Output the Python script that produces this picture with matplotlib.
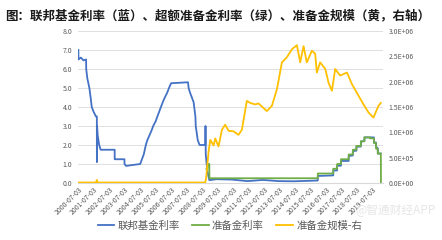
import matplotlib
matplotlib.use('Agg')
import matplotlib.pyplot as plt
import pandas as pd

plt.rcParams['font.family'] = ['Noto Sans CJK SC', 'DejaVu Sans']

# 联邦基金利率 (%)
fed_dates = ['2000-07-03', '2000-07-06', '2000-09-01', '2000-11-01', '2001-01-02', '2001-01-04',
             '2001-01-31', '2001-03-20', '2001-04-18', '2001-05-15', '2001-06-27', '2001-08-21',
             '2001-09-12', '2001-09-13', '2001-09-17', '2001-10-02', '2001-11-06', '2001-12-11',
             '2002-11-06', '2002-11-07', '2003-06-25', '2003-06-26', '2003-08-01', '2004-06-30',
             '2004-08-10', '2004-09-21', '2004-11-10', '2004-12-14', '2005-02-02', '2005-03-22',
             '2005-05-03', '2005-06-30', '2005-08-09', '2005-09-20', '2005-11-01', '2005-12-13',
             '2006-01-31', '2006-03-28', '2006-05-10', '2006-06-29', '2007-08-01', '2007-08-15',
             '2007-09-18', '2007-10-31', '2007-12-11', '2008-01-22', '2008-01-30', '2008-03-18',
             '2008-04-30', '2008-09-12', '2008-09-16', '2008-09-22', '2008-10-30', '2008-12-16',
             '2009-06-01', '2010-06-01', '2011-06-01', '2012-06-01', '2013-06-01', '2014-06-01',
             '2015-12-15', '2015-12-17', '2016-12-14', '2016-12-15', '2017-03-15', '2017-03-16',
             '2017-06-14', '2017-06-15', '2017-12-13', '2017-12-14', '2018-03-21', '2018-03-22',
             '2018-06-13', '2018-06-14', '2018-09-26', '2018-09-27', '2018-12-19', '2018-12-20',
             '2019-07-31', '2019-08-01', '2019-09-18', '2019-09-19', '2019-10-30', '2019-10-31',
             '2020-01-10']
fed_rate = [7.0, 6.5, 6.6, 6.45, 6.5, 6.0,
            5.5, 5.0, 4.5, 4.0, 3.75, 3.5,
            3.5, 1.1, 3.0, 2.5, 2.0, 1.75,
            1.75, 1.25, 1.25, 1.0, 0.9, 1.0,
            1.25, 1.5, 2.0, 2.25, 2.5, 2.75,
            3.0, 3.25, 3.5, 3.75, 4.0, 4.25,
            4.5, 4.75, 5.0, 5.25, 5.3, 5.0,
            4.75, 4.5, 4.25, 3.5, 3.0, 2.25,
            2.0, 2.0, 3.0, 1.5, 0.6, 0.15,
            0.2, 0.18, 0.1, 0.16, 0.1, 0.09,
            0.13, 0.37, 0.4, 0.66, 0.66, 0.91,
            0.91, 1.16, 1.16, 1.42, 1.45, 1.68,
            1.70, 1.91, 1.92, 2.18, 2.20, 2.40,
            2.40, 2.13, 2.13, 1.90, 1.83, 1.55,
            1.55]

# 超额准备金利率 (%)
ioer_dates = ['2008-10-09', '2008-10-23', '2008-11-06', '2008-12-15', '2008-12-16', '2015-12-16',
              '2015-12-17', '2016-12-14', '2016-12-15', '2017-03-15', '2017-03-16', '2017-06-14',
              '2017-06-15', '2017-12-13', '2017-12-14', '2018-03-21', '2018-03-22', '2018-06-13',
              '2018-06-14', '2018-09-26', '2018-09-27', '2018-12-19', '2018-12-20', '2019-05-01',
              '2019-05-02', '2019-07-31', '2019-08-01', '2019-09-18', '2019-09-19', '2019-10-30',
              '2019-10-31', '2020-01-10', '2020-01-13']
ioer_rate = [0.75, 0.65, 1.0, 1.0, 0.25, 0.25,
             0.5, 0.5, 0.75, 0.75, 1.0, 1.0,
             1.25, 1.25, 1.5, 1.5, 1.75, 1.75,
             1.95, 1.95, 2.2, 2.2, 2.4, 2.4,
             2.35, 2.35, 2.1, 2.1, 1.8, 1.8,
             1.55, 1.55, 0.0]

# 准备金规模 (百万美元, 右轴)
res_dates = ['2000-07-03', '2001-08-20', '2001-09-12', '2001-09-26', '2008-09-10', '2008-10-01',
             '2008-11-28', '2009-01-07', '2009-03-25', '2009-05-05', '2009-07-20', '2009-10-08',
             '2009-12-24', '2010-03-15', '2010-07-08', '2010-11-02', '2011-01-22', '2011-05-18',
             '2011-08-07', '2011-12-01', '2012-02-17', '2012-06-13', '2012-09-01', '2012-12-28',
             '2013-04-27', '2013-08-22', '2013-12-17', '2014-04-16', '2014-08-11', '2014-10-27',
             '2015-01-15', '2015-04-01', '2015-07-30', '2015-10-15', '2015-11-24', '2016-02-10',
             '2016-06-10', '2016-08-25', '2016-11-13', '2017-01-30', '2017-05-26', '2017-11-03',
             '2018-02-28', '2018-06-24', '2018-11-28', '2019-03-26', '2019-07-20', '2019-11-14',
             '2020-01-10']
reserves = [0.01e6, 0.01e6, 0.06e6, 0.01e6, 0.01e6, 0.1e6,
            0.62e6, 0.85e6, 0.74e6, 0.88e6, 0.72e6, 1.05e6,
            1.15e6, 1.03e6, 1.02e6, 0.95e6, 1.05e6, 1.62e6,
            1.58e6, 1.55e6, 1.57e6, 1.48e6, 1.42e6, 1.52e6,
            1.85e6, 2.38e6, 2.48e6, 2.64e6, 2.72e6, 2.38e6,
            2.70e6, 2.38e6, 2.61e6, 2.55e6, 2.18e6, 2.38e6,
            2.25e6, 1.98e6, 1.82e6, 2.25e6, 2.12e6, 2.18e6,
            1.95e6, 1.78e6, 1.55e6, 1.39e6, 1.29e6, 1.52e6,
            1.58e6]

tick_years = list(range(2000, 2020))

fig = plt.figure(figsize=(4.42, 2.40), dpi=100)
ax = fig.add_axes([0.1765, 0.2375, 0.69, 0.6335])
ax2 = ax.twinx()

l1, = ax.plot(pd.to_datetime(fed_dates), fed_rate, color='#4472C4', lw=1.3, label='联邦基金利率')
l2, = ax.plot(pd.to_datetime(ioer_dates), ioer_rate, color='#70AD47', lw=1.3, label='准备金利率')
l3, = ax2.plot(pd.to_datetime(res_dates), reserves, color='#FFC000', lw=1.3, label='准备金规模-右')

ax.set_ylim(0, 8)
ax.set_yticks(range(0, 9))
ax.set_yticklabels([f'{v:.1f}' for v in range(0, 9)])
ax2.set_ylim(0, 3e6)
right_ticks = [i * 5e5 for i in range(7)]
ax2.set_yticks(right_ticks)
ax2.set_yticklabels([f'{v:.1E}' for v in right_ticks])

ax.set_xlim(pd.Timestamp('2000-06-25'), pd.Timestamp('2020-03-01'))
ax.set_xticks(pd.to_datetime([f'{y}-07-03' for y in tick_years]))
ax.set_xticklabels([f'{y}-07-03' for y in tick_years], rotation=45, ha='right',
                   rotation_mode='anchor', fontsize=4.5, color='#595959')

ax.grid(axis='y', color='#D9D9D9', lw=0.6)
ax.set_axisbelow(True)
for a in (ax, ax2):
    for s in a.spines.values():
        s.set_visible(False)
    a.tick_params(length=0, labelsize=5, labelcolor='#595959', pad=4)
ax.spines['bottom'].set_visible(True)
ax.spines['bottom'].set_color('#D9D9D9')
ax.tick_params(axis='x', pad=2)
ax2.set_zorder(ax.get_zorder() + 1)
ax2.patch.set_visible(False)

fig.text(0.012, 0.935, '图：联邦基金利率（蓝）、超额准备金利率（绿）、准备金规模（黄，右轴）',
         fontsize=9, fontweight='bold', color='#1a1a1a', va='center')

fig.legend(handles=[l1, l2, l3], loc='center', bbox_to_anchor=(0.52, 0.06), ncol=3,
           frameon=False, fontsize=7.5, handlelength=1.6, handletextpad=0.3,
           columnspacing=1.2, labelcolor='#595959')

# 水印
fig.text(0.985, 0.125, '@智通财经APP', fontsize=8.5, color='#E6E6E6', ha='right', va='center')

plt.savefig('out.png', dpi=100)
